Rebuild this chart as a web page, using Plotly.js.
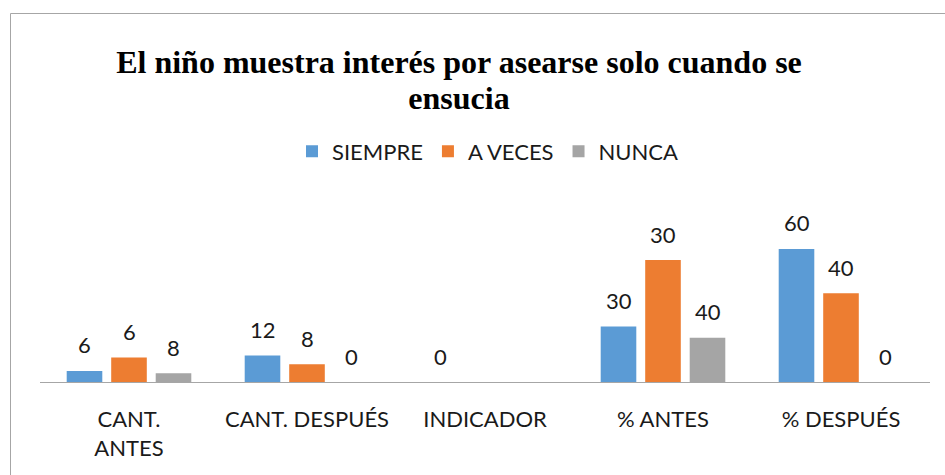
<!DOCTYPE html>
<html>
<head>
<meta charset="utf-8">
<script src="https://cdn.plot.ly/plotly-3.0.1.min.js"></script>
<style>
  html, body { margin: 0; padding: 0; background: #ffffff; }
  #chart { width: 945px; height: 475px; }
</style>
</head>
<body>
<div id="chart"></div>
<script>
// ---- data ----
var categories = ['CANT.<br>ANTES', 'CANT. DESPUÉS', 'INDICADOR', '% ANTES', '% DESPUÉS'];
var seriesNames = ['SIEMPRE', 'A VECES', 'NUNCA'];
// bar heights as drawn
var siempre = [5, 12, 0, 25, 60];
var aVeces  = [11, 8, null, 55, 40];
var nunca   = [4, 0, null, 20, 0];
// data labels as printed on the chart
var siempreLabels = ['6', '12', '0', '30', '60'];
var aVecesLabels  = ['6', '8', '', '30', '40'];
var nuncaLabels   = ['8', '0', '', '40', '0'];
var colors = ['#5b9bd5', '#ed7d31', '#a5a5a5'];

var seriesValues = [siempre, aVeces, nunca];
var seriesLabels = [siempreLabels, aVecesLabels, nuncaLabels];

var FONT = 'Lato, "Open Sans", sans-serif';
var TXT = '#1a1a1a';

var traces = seriesNames.map(function (name, j) {
  return {
    type: 'bar',
    name: name,
    x: categories,
    y: seriesValues[j],
    marker: { color: colors[j] },
    hoverinfo: 'none'
  };
});

var nBars = seriesNames.length;
var bargap = 0.25;
var slot = (1 - bargap) / nBars;
var annotations = [];
seriesLabels.forEach(function (labels, j) {
  labels.forEach(function (lab, i) {
    if (lab === '' || seriesValues[j][i] === null) return;
    annotations.push({
      x: i + (j - (nBars - 1) / 2) * slot,
      y: seriesValues[j][i],
      xref: 'x', yref: 'y',
      text: lab,
      showarrow: false,
      yanchor: 'middle',
      yshift: 26,
      font: { family: FONT, size: 22, color: TXT }
    });
  });
});

var layout = {
  width: 945,
  height: 475,
  margin: { l: 40, r: 15, t: 190, b: 93 },
  paper_bgcolor: '#ffffff',
  plot_bgcolor: '#ffffff',
  barmode: 'group',
  bargap: bargap,
  bargroupgap: 0.2,
  font: { family: FONT, size: 22, color: TXT },
  title: {
    text: '<span style="font-size:32px">El niño muestra interés por asearse solo cuando se</span><br><span style="font-size:32px">ensucia</span>',
    font: { family: '"Liberation Serif", "Times New Roman", serif', size: 27.7, color: '#000000', weight: 'bold' },
    xref: 'container', yref: 'container',
    x: 0.4857, xanchor: 'center',
    y: 1 - 73 / 475, yanchor: 'top'
  },
  legend: {
    orientation: 'h',
    xref: 'container', yref: 'container',
    x: 488 / 945, xanchor: 'center',
    y: 1 - 151.5 / 475, yanchor: 'middle',
    font: { family: FONT, size: 22, color: TXT },
    traceorder: 'normal'
  },
  xaxis: {
    type: 'category',
    showline: true,
    linecolor: '#a6a6a6',
    linewidth: 1,
    ticks: '',
    showgrid: false,
    zeroline: false,
    ticklabelstandoff: 18,
    tickfont: { family: FONT, size: 22, color: TXT },
    fixedrange: true
  },
  yaxis: {
    range: [0, 192 / 2.217],
    visible: false,
    showgrid: false,
    zeroline: false,
    fixedrange: true
  },
  annotations: annotations,
  shapes: [{
    type: 'rect', xref: 'paper', yref: 'paper', layer: 'above',
    x0: (10.5 - 40) / 890, x1: (960 - 40) / 890,
    y0: (382 - 500) / 192, y1: (382 - 13.5) / 192,
    line: { color: '#a6a6a6', width: 1 }, fillcolor: 'rgba(0,0,0,0)'
  }]
};

Plotly.newPlot('chart', traces, layout, { displayModeBar: false, staticPlot: true });
</script>
</body>
</html>
